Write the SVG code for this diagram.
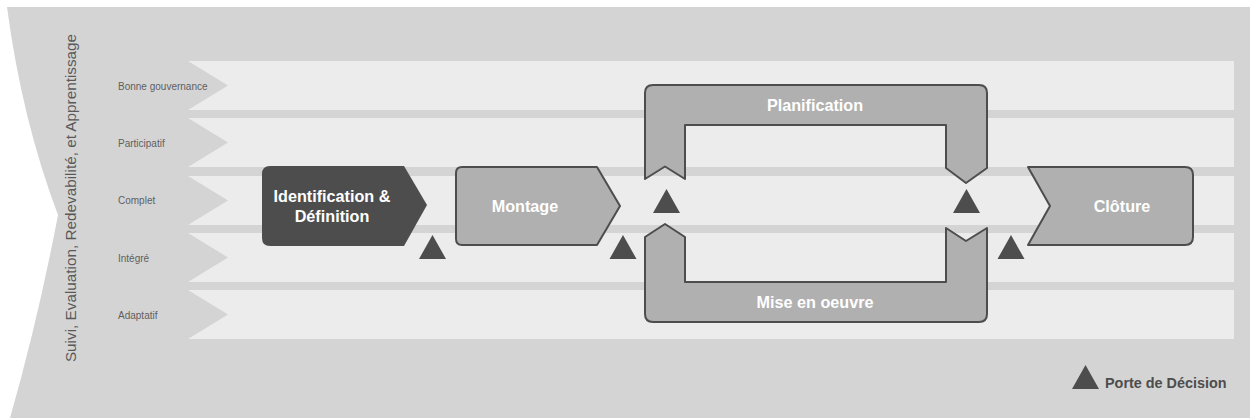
<svg xmlns="http://www.w3.org/2000/svg" width="1250" height="418" viewBox="0 0 1250 418">
<style>
.lbl{font-family:"Liberation Sans",Arial,sans-serif;font-size:10px;fill:#5f5f5f}
.side{font-family:"Liberation Sans",Arial,sans-serif;font-size:15.3px;fill:#595959}
.t{font-family:"Liberation Sans",Arial,sans-serif;font-size:16.2px;font-weight:bold;fill:#ffffff;text-anchor:middle}
.row{fill:#ececec}
.gate{fill:#4d4d4d}
.mid{fill:#b0b0b0;stroke:#4d4d4d;stroke-width:2;stroke-linejoin:round}
.leg{font-family:"Liberation Sans",Arial,sans-serif;font-size:14.4px;font-weight:bold;fill:#4d4d4d}
</style>
<defs>
<path id="gt" d="M0,-12 L13.5,12 L-13.5,12 Z"/>
</defs>
<g id="background">
<path d="M7,7 L1250,7 L1250,418 L10,418 Q38,320 58,215 Q22,120 7,7 Z" fill="#d4d4d4"/>
</g>
<g id="rows">
<path class="row" d="M188,61 L1234,61 L1234,110 L188,110 L228,85.5 Z"/>
<path class="row" d="M188,118 L1234,118 L1234,167 L188,167 L228,142.5 Z"/>
<path class="row" d="M188,176 L1234,176 L1234,225 L188,225 L228,200.5 Z"/>
<path class="row" d="M188,233 L1234,233 L1234,282 L188,282 L228,257.5 Z"/>
<path class="row" d="M188,290 L1234,290 L1234,339 L188,339 L228,314.5 Z"/>
</g>
<g id="row-labels">
<text class="lbl" x="118" y="89.5">Bonne gouvernance</text>
<text class="lbl" x="118" y="146.5">Participatif</text>
<text class="lbl" x="118" y="204">Complet</text>
<text class="lbl" x="118" y="261.5">Intégré</text>
<text class="lbl" x="118" y="318.5">Adaptatif</text>
</g>
<g id="side-label">
<text class="side" transform="translate(76,198) rotate(-90)" text-anchor="middle">Suivi, Evaluation, Redevabilité, et Apprentissage</text>
</g>
<g id="identification">
<path d="M270,166 L404,166 L427,205 L404,246 L270,246 Q262,246 262,238 L262,174 Q262,166 270,166 Z" fill="#4d4d4d"/>
<text class="t" x="332" y="202">Identification &amp;</text>
<text class="t" x="332" y="222">Définition</text>
</g>
<g id="montage">
<path class="mid" d="M462,167 L597,167 L620,206 L597,245 L462,245 Q456,245 456,239 L456,173 Q456,167 462,167 Z"/>
<text class="t" x="525" y="212">Montage</text>
</g>
<g id="planification">
<path class="mid" d="M645,179 L645,93 Q645,85 653,85 L979,85 Q987,85 987,93 L987,168 L966,183 L946,168 L946,125 L685,125 L685,179 L665,166.5 Z"/>
<text class="t" x="815" y="111">Planification</text>
</g>
<g id="mise-en-oeuvre">
<path class="mid" d="M645,237 L665,224 L685,237 L685,282 L946,282 L946,228 L966,241 L987,228 L987,314 Q987,322 979,322 L653,322 Q645,322 645,314 Z"/>
<text class="t" x="815" y="308">Mise en oeuvre</text>
</g>
<g id="cloture">
<path class="mid" d="M1028,167 L1185,167 Q1193,167 1193,175 L1193,237 Q1193,245 1185,245 L1028,245 L1050,206 Z"/>
<text class="t" x="1122" y="212">Clôture</text>
</g>
<g id="gates">
<use href="#gt" class="gate" x="432.5" y="247"/>
<use href="#gt" class="gate" x="623" y="247"/>
<use href="#gt" class="gate" x="666.5" y="201"/>
<use href="#gt" class="gate" x="966.5" y="201"/>
<use href="#gt" class="gate" x="1011" y="247"/>
</g>
<g id="legend">
<use href="#gt" class="gate" x="1085.5" y="377"/>
<text class="leg" x="1105" y="388">Porte de Décision</text>
</g>
</svg>
